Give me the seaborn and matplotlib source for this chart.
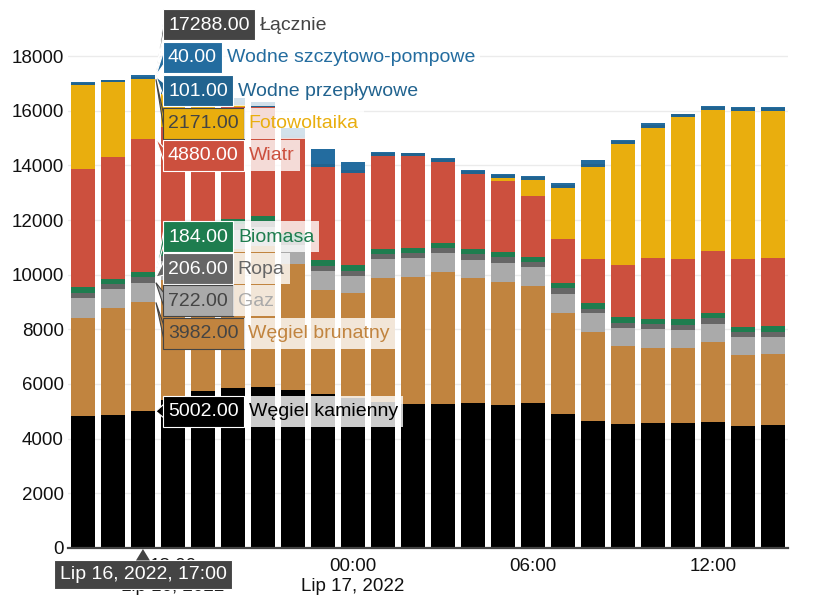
import numpy as np
import pandas as pd
import matplotlib
matplotlib.use("Agg")
import matplotlib.pyplot as plt
import seaborn as sns
from matplotlib.patches import Polygon, Rectangle

# Hours: Lip 16, 2022 15:00 ... Lip 17, 2022 14:00
hours = ["15:00", "16:00", "17:00", "18:00", "19:00", "20:00", "21:00", "22:00",
         "23:00", "00:00", "01:00", "02:00", "03:00", "04:00", "05:00", "06:00",
         "07:00", "08:00", "09:00", "10:00", "11:00", "12:00", "13:00", "14:00"]

# Generation per source (MW), bottom of the stack first
wegiel_kamienny = [4842, 4868, 5002, 5400, 5746, 5867, 5893, 5783, 5650, 5500, 5350, 5270,
                   5270, 5307, 5233, 5300, 4892, 4659, 4549, 4586, 4586, 4611, 4465, 4501]
wegiel_brunatny = [3587, 3927, 3982, 4400, 4754, 5083, 5157, 4597, 3793, 3822, 4510, 4660,
                   4820, 4563, 4513, 4295, 3720, 3257, 2844, 2745, 2745, 2917, 2599, 2600]
gaz = [710, 685, 722, 700, 710, 700, 710, 700, 706, 644, 717, 696,
       718, 671, 696, 701, 697, 672, 670, 684, 648, 670, 647, 634]
ropa = [183, 171, 206, 190, 190, 190, 200, 200, 183, 183, 183, 160,
        161, 208, 198, 170, 195, 158, 183, 183, 182, 207, 183, 183]
biomasa = [219, 194, 184, 190, 190, 190, 190, 190, 209, 209, 183, 194,
           183, 194, 183, 196, 207, 232, 220, 183, 220, 207, 206, 207]
wiatr = [4330, 4466, 4880, 4540, 4210, 4120, 3999, 3535, 3414, 3378, 3397, 3367,
         2964, 2746, 2620, 2221, 1598, 1612, 1892, 2245, 2196, 2268, 2477, 2501]
fotowoltaika = [3064, 2720, 2171, 1200, 500, 60, 0, 0, 0, 0, 0, 0,
                0, 0, 88, 586, 1878, 3365, 4428, 4757, 5209, 5147, 5413, 5364]
wodne_przeplywowe = [95, 80, 101, 100, 100, 100, 100, 100, 100, 100, 100, 100,
                     100, 100, 100, 100, 100, 100, 100, 100, 90, 100, 100, 100]
wodne_pompowe = [26, 18, 40, 80, 200, 168, 83, 266, 548, 280, 45, 10,
                 58, 46, 58, 47, 83, 146, 47, 84, 8, 59, 47, 47]

series_names = ["Węgiel kamienny", "Węgiel brunatny", "Gaz", "Ropa", "Biomasa", "Wiatr",
                "Fotowoltaika", "Wodne przepływowe", "Wodne szczytowo-pompowe"]
series_colors = ["#000000", "#c1843f", "#aaaaaa", "#666666", "#1e7d4f", "#cc503e",
                 "#e9ae0e", "#21638f", "#236c9f"]

tick_pos = [3, 9, 15, 21]
tick_labels = ["18:00\nLip 16, 2022", "00:00\nLip 17, 2022", "06:00", "12:00"]

hover_idx = 2
hover_title = "Lip 16, 2022, 17:00"


def build_frame():
    df = pd.DataFrame({
        "hour": hours,
        "Węgiel kamienny": wegiel_kamienny,
        "Węgiel brunatny": wegiel_brunatny,
        "Gaz": gaz,
        "Ropa": ropa,
        "Biomasa": biomasa,
        "Wiatr": wiatr,
        "Fotowoltaika": fotowoltaika,
        "Wodne przepływowe": wodne_przeplywowe,
        "Wodne szczytowo-pompowe": wodne_pompowe,
    })
    cum = df[series_names].cumsum(axis=1)
    cum.insert(0, "hour", df["hour"])
    return df, cum


def plot_stack(df, cum):
    sns.set_style("white")
    plt.rcParams["font.family"] = ["Liberation Sans", "DejaVu Sans"]

    fig = plt.figure(figsize=(8.13, 6.14), dpi=100)
    ax = fig.add_axes([0.0836, 0.1075, 0.8854, 0.8458])

    # stacked bars: draw cumulative totals from the top down
    for name, color in reversed(list(zip(series_names, series_colors))):
        sns.barplot(data=cum, x="hour", y=name, color=color, saturation=1,
                    width=0.8, errorbar=None, ax=ax, zorder=3,
                    linewidth=0, edgecolor="none")

    ax.set_xlim(-0.5, 23.5)
    ax.set_ylim(0, 19000)
    ax.set_yticks(range(0, 18001, 2000))
    ax.yaxis.grid(True, color="#ebebeb", lw=1, zorder=0)
    ax.set_axisbelow(True)
    ax.set_xticks(tick_pos)
    ax.set_xticklabels(tick_labels, linespacing=1.25)
    ax.tick_params(axis="both", length=0, labelsize=13.5, colors="#111111")
    ax.tick_params(axis="x", pad=7)
    ax.tick_params(axis="y", pad=3)
    ax.set_xlabel("")
    ax.set_ylabel("")
    for s in ["top", "right", "left"]:
        ax.spines[s].set_visible(False)
    ax.spines["bottom"].set_color("#444444")
    ax.spines["bottom"].set_linewidth(1.6)
    ax.spines["bottom"].set_zorder(4)
    return fig, ax


def draw_hover(fig, ax, df, cum):
    H = fig.bbox.height
    ov = fig.add_axes([0, 0, 1, 1], zorder=10)
    ov.set_xlim(0, fig.bbox.width)
    ov.set_ylim(H, 0)
    ov.axis("off")
    ov.patch.set_alpha(0)
    fig.canvas.draw()
    renderer = fig.canvas.get_renderer()

    def to_px(x, y):
        dx, dy = ax.transData.transform((x, y))
        return dx, H - dy

    row = cum.iloc[hover_idx]
    total = row[series_names[-1]]

    # (label, value, target, box colour, text colour, name colour, y centre px)
    entries = [("Łącznie", total, total, "#444444", "white", "#444444", 24)]
    label_y = {"Wodne szczytowo-pompowe": 57, "Wodne przepływowe": 90, "Fotowoltaika": 123,
               "Wiatr": 155, "Biomasa": 236, "Ropa": 268, "Gaz": 300,
               "Węgiel brunatny": 333, "Węgiel kamienny": 411}
    light = {"Fotowoltaika", "Gaz", "Węgiel brunatny"}
    for name, color in reversed(list(zip(series_names, series_colors))):
        val = df[name].iloc[hover_idx]
        tc = "#444444" if name in light else "white"
        entries.append((name, val, row[name], color, tc, color, label_y[name]))

    box_left = 163
    box_h = 31
    for name, val, tgt, bc, tc, nc, yc in entries:
        border = "#444444" if tc == "#444444" else "white"
        tx, ty = to_px(hover_idx + 0.4, tgt)
        t = ov.text(box_left + 5, yc + 1, f"{val:.2f}", ha="left", va="center",
                    fontsize=14, color=tc, zorder=4)
        w = t.get_window_extent(renderer).width
        box_r = box_left + w + 10
        ov.add_patch(Rectangle((box_left, yc - box_h / 2), w + 10, box_h,
                               fc=bc, ec=border, lw=0.8, zorder=3))
        ov.add_patch(Polygon([(tx + 1, ty), (box_left + 1, yc - 7), (box_left + 1, yc + 7)],
                             closed=True, fc=bc, ec=border, lw=0.8, zorder=2))
        n = ov.text(box_r + 5, yc + 1, name, ha="left", va="center", fontsize=14,
                    color=nc, zorder=4)
        nw = n.get_window_extent(renderer).width
        ov.add_patch(Rectangle((box_r, yc - box_h / 2), nw + 10, box_h,
                               fc="white", alpha=0.8, ec="none", zorder=3))

    # date tooltip under the hovered bar
    bx, by = to_px(hover_idx, 0)
    t = ov.text(bx, by + 27, hover_title, ha="center", va="center", fontsize=14,
                color="white", zorder=4)
    w = t.get_window_extent(renderer).width
    ov.add_patch(Rectangle((bx - w / 2 - 6, by + 12), w + 12, 29,
                           fc="#444444", ec="white", lw=0.8, zorder=3))
    ov.add_patch(Polygon([(bx, by + 1), (bx - 7, by + 12.5), (bx + 7, by + 12.5)],
                         closed=True, fc="#444444", ec="none", zorder=3))


if __name__ == "__main__":
    df, cum = build_frame()
    fig, ax = plot_stack(df, cum)
    draw_hover(fig, ax, df, cum)
    fig.savefig("out.png", dpi=100)
